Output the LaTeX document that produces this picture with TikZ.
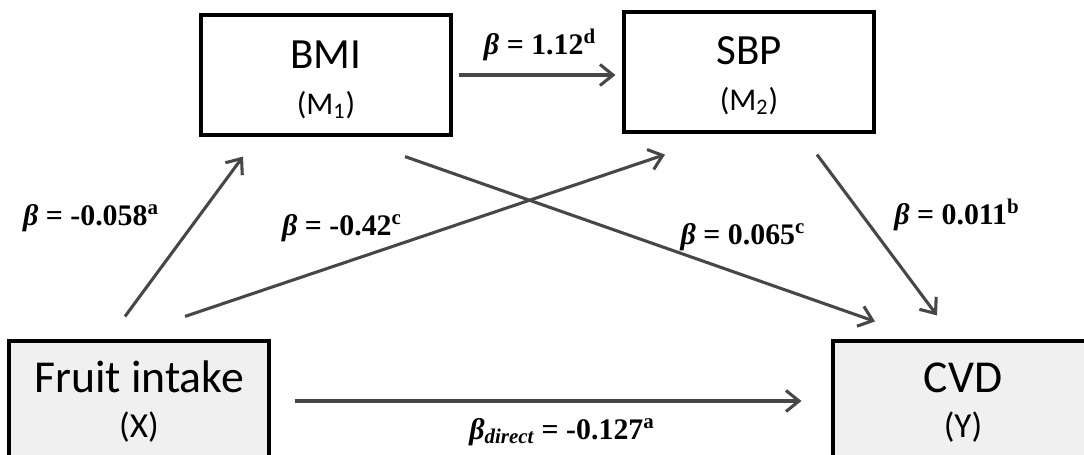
\documentclass[tikz,border=0pt]{standalone}
\usepackage{fontspec}
\setmainfont{Liberation Serif}
\newfontfamily\calibri{Carlito}
\usetikzlibrary{arrows.meta, calc}

\newcommand{\betab}{{\bfseries\itshape β}}

\begin{document}
\begin{tikzpicture}[
  x=0.02cm, y=-0.02cm,
  box/.style = {draw, line width=1.8pt, minimum width=5cm, minimum height=2.4cm},
  inbox/.style = {box, fill=gray!12, minimum width=5.2cm},
  vartitle/.style = {anchor=base, inner sep=0, font=\calibri\fontsize{24.5}{29}\selectfont},
  varsub/.style = {anchor=base, inner sep=0, font=\calibri\fontsize{18}{21}\selectfont},
  bigtitle/.style = {vartitle, font=\calibri\fontsize{26}{31}\selectfont},
  bigsub/.style = {varsub, font=\calibri\fontsize{20}{23}\selectfont},
  coef/.style = {inner sep=0, font=\bfseries\fontsize{17}{20}\selectfont},
  arrow/.style = {line width=1.75pt, draw=black!72, -{Straight Barb[length=2.6mm, width=4.2mm]}}
]

  \useasboundingbox (0,0) rectangle (1084,455);
  \clip (0,0) rectangle (1084,455);

  % Mediators
  \node[box] (bmi) at (326,75) {};
  \node[vartitle] (bmi-t) at ($(bmi.north)+(0,55)$) {BMI};
  \node[varsub] (bmi-s) at ($(bmi.north)+(0,101)$) {(M\textsubscript{1})};

  \node[box] (sbp) at (749,72) {};
  \node[vartitle] (sbp-t) at ($(sbp.north)+(0,54)$) {SBP};
  \node[varsub] (sbp-s) at ($(sbp.north)+(0,100)$) {(M\textsubscript{2})};

  % Exposure and outcome
  \node[inbox] (fruit) at (139,401) {};
  \node[bigtitle] (fruit-t) at ($(fruit.north)+(0,53)$) {Fruit intake};
  \node[bigsub] (fruit-s) at ($(fruit.north)+(0,98)$) {(X)};

  \node[inbox] (cvd) at (963,401) {};
  \node[bigtitle] (cvd-t) at ($(cvd.north)+(0,53)$) {CVD};
  \node[bigsub] (cvd-s) at ($(cvd.north)+(0,98)$) {(Y)};

  % Paths
  \draw[arrow] ($(fruit.north)+(-14,-23)$) -- ($(bmi.south)+(-83,20)$);
  \draw[arrow] ($(fruit.north)+(46,-23)$) -- ($(sbp.south)+(-84,21)$);
  \draw[arrow] ($(bmi.south)+(79,20)$) -- ($(cvd.north)+(-88,-18)$);
  \draw[arrow] ($(sbp.south)+(68,21)$) -- ($(cvd.north)+(-26,-24)$);
  \draw[arrow] ($(bmi.east)+(6,0)$) -- ($(sbp.west)+(-7,3)$);
  \draw[arrow] ($(fruit.east)+(24,0)$) -- ($(cvd.west)+(-30,0)$);

  % Coefficients
  \node[coef] (c-xm1) at (91,218) {\betab{} = -0.058\textsuperscript{a}};
  \node[coef] (c-xm2) at (342,228) {\betab{} = -0.42\textsuperscript{c}};
  \node[coef] (c-m1y) at (743,237) {\betab{} = 0.065\textsuperscript{c}};
  \node[coef] (c-m2y) at (957,215) {\betab{} = 0.011\textsuperscript{b}};
  \node[coef] (c-m1m2) at (540,45) {\betab{} = 1.12\textsuperscript{d}};
  \node[coef] (c-xy) at (562,432) {{\bfseries\itshape β\textsubscript{direct}} = -0.127\textsuperscript{a}};

\end{tikzpicture}
\end{document}
